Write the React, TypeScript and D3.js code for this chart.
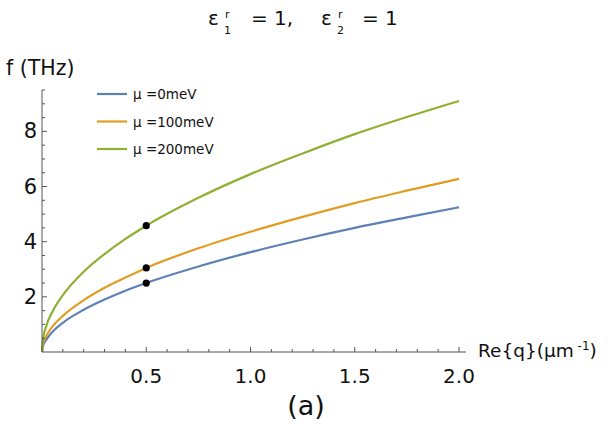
import * as d3 from 'd3';

// sampled wavevector values (μm^-1)
const qValues = [0, 0.005, 0.02, 0.05, 0.1, 0.2, 0.3, 0.4, 0.5, 0.75, 1.0, 1.25, 1.5, 1.75, 2.0];

// frequency (THz)
const f0meV = [0, 0.22, 0.44, 0.73, 1.06, 1.53, 1.9, 2.22, 2.5, 3.1, 3.62, 4.08, 4.5, 4.88, 5.25];
const f100meV = [0, 0.3, 0.57, 0.92, 1.31, 1.88, 2.33, 2.7, 3.05, 3.76, 4.36, 4.9, 5.4, 5.85, 6.28];
const f200meV = [0, 0.46, 0.93, 1.46, 2.06, 2.91, 3.55, 4.1, 4.58, 5.59, 6.45, 7.2, 7.9, 8.52, 9.1];

const seriesNames = ['μ =0meV', 'μ =100meV', 'μ =200meV'];
const seriesColors = ['#5e81b5', '#e19c24', '#8fb032'];

// marked points at q = 0.5
const markerQ = 0.5;
const markerF = [2.5, 3.05, 4.58];

const xMajor = [0.5, 1.0, 1.5, 2.0];
const yMajor = [2, 4, 6, 8];

const W = 615;
const H = 427;
const font = 'DejaVu Sans, sans-serif';
const axisColor = '#555';

export default function App() {
  const x = d3.scaleLinear().domain([0, 2]).range([42, 459]);
  const y = d3.scaleLinear().domain([0, 9.5]).range([352, 90]);

  const allSeries = [f0meV, f100meV, f200meV];
  const line = d3
    .line<[number, number]>()
    .x(d => x(d[0]))
    .y(d => y(d[1]))
    .curve(d3.curveMonotoneX);

  const xMinor = d3.range(1, 21).map(i => i / 10);
  const yMinor = d3.range(1, 20).map(i => i / 2);

  return (
    <svg
      width={W}
      height={H}
      style={{ position: 'absolute', left: 0, top: 0, background: '#fff' }}
      fontFamily={font}
    >
      <rect width={W} height={H} fill="#fff" />

      {/* title */}
      <g fill="#111">
        <text x={208} y={25} fontSize={20}>ε</text>
        <text x={225} y={18} fontSize={11}>r</text>
        <text x={224} y={34} fontSize={11}>1</text>
        <text x={251} y={25} fontSize={20}>= 1,</text>
        <text x={321} y={25} fontSize={20}>ε</text>
        <text x={338} y={18} fontSize={11}>r</text>
        <text x={337} y={34} fontSize={11}>2</text>
        <text x={362} y={25} fontSize={20}>= 1</text>
      </g>

      {/* curves */}
      {allSeries.map((vals, i) => (
        <path
          key={i}
          d={line(qValues.map((q, j) => [q, vals[j]] as [number, number])) ?? ''}
          fill="none"
          stroke={seriesColors[i]}
          strokeWidth={2.2}
        />
      ))}

      {/* axes */}
      <line x1={x(0)} x2={466} y1={y(0)} y2={y(0)} stroke={axisColor} strokeWidth={1} />
      <line x1={x(0)} x2={x(0)} y1={y(0)} y2={y(9.5)} stroke={axisColor} strokeWidth={1} />

      {xMinor.map(v => {
        const major = xMajor.some(m => Math.abs(m - v) < 1e-9);
        return (
          <line
            key={'xt' + v}
            x1={x(v)}
            x2={x(v)}
            y1={y(0)}
            y2={y(0) - (major ? 5 : 3)}
            stroke={axisColor}
            strokeWidth={1}
          />
        );
      })}
      {yMinor.map(v => {
        const major = yMajor.some(m => Math.abs(m - v) < 1e-9);
        return (
          <line
            key={'yt' + v}
            x1={x(0)}
            x2={x(0) + (major ? 5 : 3)}
            y1={y(v)}
            y2={y(v)}
            stroke={axisColor}
            strokeWidth={1}
          />
        );
      })}

      {xMajor.map(v => (
        <text key={'xl' + v} x={x(v)} y={383} textAnchor="middle" fontSize={20} fill="#111">
          {v.toFixed(1)}
        </text>
      ))}
      {yMajor.map(v => (
        <text
          key={'yl' + v}
          x={37}
          y={y(v)}
          textAnchor="end"
          dominantBaseline="central"
          fontSize={21}
          fill="#111"
        >
          {v}
        </text>
      ))}

      {/* axis labels */}
      <text x={6} y={75} fontSize={20.5} fill="#111">f (THz)</text>
      <text x={478} y={357} fontSize={18.5} fill="#111">
        Re{'{'}q{'}'}(μm
        <tspan dy={-7} fontSize={12}> -1</tspan>
        <tspan dy={7}>)</tspan>
      </text>
      <text x={306} y={415} textAnchor="middle" fontSize={27} fill="#111">(a)</text>

      {/* markers */}
      {markerF.map((v, i) => (
        <circle key={'m' + i} cx={x(markerQ)} cy={y(v)} r={3.6} fill="#000" />
      ))}

      {/* legend */}
      {seriesNames.map((name, i) => (
        <g key={name} transform={`translate(97, ${94 + i * 27.5})`}>
          <line x1={0} x2={30} y1={0} y2={0} stroke={seriesColors[i]} strokeWidth={2.2} />
          <text x={36} y={0} dominantBaseline="central" fontSize={13.5} fill="#111">
            {name}
          </text>
        </g>
      ))}
    </svg>
  );
}
